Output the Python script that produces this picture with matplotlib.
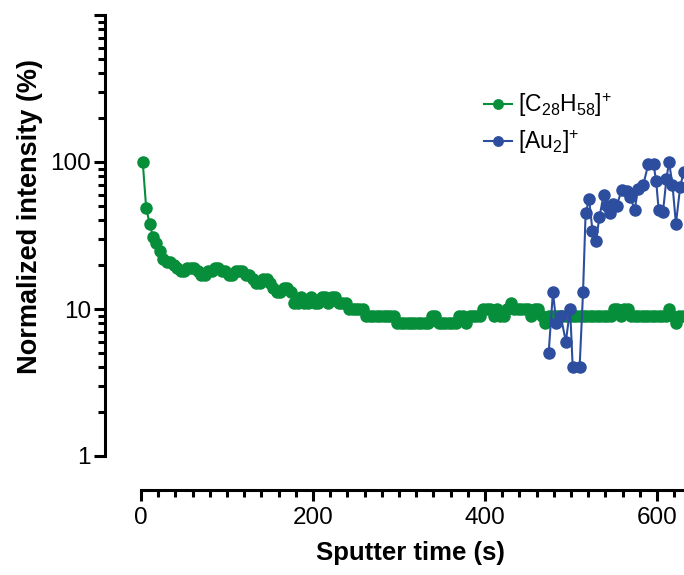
import matplotlib
matplotlib.use('Agg')
import matplotlib.pyplot as plt
from matplotlib.ticker import LogLocator, MultipleLocator, NullFormatter

plt.rcParams['font.family'] = ['Liberation Sans', 'DejaVu Sans']
plt.rcParams['mathtext.default'] = 'regular'

# sputter time (s) and normalized intensity (%)
green_t = [2, 6, 10, 14, 18, 22, 26, 30, 34, 38,
           42, 46, 50, 54, 58, 62, 66, 70, 74, 78,
           82, 86, 90, 94, 98, 102, 106, 110, 114, 118,
           122, 126, 130, 134, 138, 142, 146, 150, 154, 158,
           162, 166, 170, 174, 178, 182, 186, 190, 194, 198,
           202, 206, 210, 214, 218, 222, 226, 230, 234, 238,
           242, 246, 250, 254, 258, 262, 266, 270, 274, 278,
           282, 286, 290, 294, 298, 302, 306, 310, 314, 318,
           322, 326, 330, 334, 338, 342, 346, 350, 354, 358,
           362, 366, 370, 374, 378, 382, 386, 390, 394, 398,
           402, 406, 410, 414, 418, 422, 426, 430, 434, 438,
           442, 446, 450, 454, 458, 462, 466, 470, 474, 478,
           482, 486, 490, 494, 498, 502, 506, 510, 514, 518,
           522, 526, 530, 534, 538, 542, 546, 550, 554, 558,
           562, 566, 570, 574, 578, 582, 586, 590, 594, 598,
           602, 606, 610, 614, 618, 622, 626, 630]
green_v = [100, 49, 38, 31, 28, 25, 22, 21, 21, 20,
           19, 18, 18, 19, 19, 19, 18, 17, 17, 18,
           18, 19, 19, 18, 18, 17, 17, 18, 18, 18,
           17, 17, 16, 15, 15, 16, 16, 15, 14, 13,
           13, 14, 14, 13, 11, 11, 12, 11, 11, 12,
           11, 11, 12, 12, 11, 12, 12, 11, 11, 11,
           10, 10, 10, 10, 10, 9, 9, 9, 9, 9,
           9, 9, 9, 9, 8, 8, 8, 8, 8, 8,
           8, 8, 8, 8, 9, 9, 8, 8, 8, 8,
           8, 8, 9, 9, 8, 9, 9, 9, 9, 10,
           10, 10, 9, 10, 9, 9, 10, 11, 10, 10,
           10, 10, 10, 9, 10, 10, 9, 8, 9, 9,
           9, 9, 9, 9, 9, 9, 9, 9, 9, 9,
           9, 9, 9, 9, 9, 9, 9, 10, 10, 9,
           10, 10, 9, 9, 9, 9, 9, 9, 9, 9,
           9, 9, 9, 10, 9, 8, 9, 9]

blue_t = [474, 479, 483, 488, 494, 499, 502, 510, 514, 517,
          521, 525, 529, 533, 538, 542, 545, 549, 553, 559,
          565, 569, 574, 578, 584, 590, 596, 599, 602, 607,
          611, 614, 618, 622, 627, 631]
blue_v = [5, 13, 8, 9, 6, 10, 4, 4, 13, 45,
          56, 34, 29, 42, 60, 50, 45, 52, 50, 65,
          63, 58, 47, 66, 70, 97, 97, 74, 47, 46,
          77, 100, 70, 38, 68, 85]

labels = [r'[C$_{28}$H$_{58}$]$^{+}$', r'[Au$_{2}$]$^{+}$']
green = '#078E3A'
blue = '#2D4E9F'

fig = plt.figure(figsize=(6.84, 5.75), dpi=100)
ax = fig.add_axes([141 / 684, 119 / 575, 543 / 684, 441 / 575])

ax.plot(green_t, green_v, '-o', color=green, ms=8, lw=1.5, clip_on=False,
        label=labels[0], zorder=3)
ax.plot(blue_t, blue_v, '-o', color=blue, ms=8, lw=1.5, clip_on=False,
        label=labels[1], zorder=4)

ax.set_yscale('log')
ax.set_ylim(1, 1000)
ax.set_xlim(0, 631.4)

ax.set_yticks([1, 10, 100, 1000])
ax.set_yticklabels(['1', '10', '100', ''])
ax.yaxis.set_minor_locator(LogLocator(base=10, subs=range(2, 10)))
ax.yaxis.set_minor_formatter(NullFormatter())
ax.set_xticks([0, 200, 400, 600])
ax.xaxis.set_minor_locator(MultipleLocator(20))

for s in ['top', 'right']:
    ax.spines[s].set_visible(False)
ax.spines['left'].set_position(('outward', 26))
ax.spines['bottom'].set_position(('outward', 24.5))
for s in ['left', 'bottom']:
    ax.spines[s].set_linewidth(2.2)

ax.tick_params(which='major', length=8, width=2.2, labelsize=17.5, pad=2)
ax.tick_params(which='minor', length=5, width=2.2)
ax.tick_params(axis='x', which='major', pad=4)

fig.text(30 / 684, 1 - 217 / 575, 'Normalized intensity (%)', rotation=90,
         ha='center', va='center', fontsize=19.5, fontweight='bold')
fig.text(410 / 684, 1 - 553 / 575, 'Sputter time (s)', ha='center',
         va='center', fontsize=18.5, fontweight='bold')

ax.legend(loc='upper left', bbox_to_anchor=(484 / 684, 1 - 91 / 575),
          bbox_transform=fig.transFigure, frameon=False, fontsize=16.5,
          handlelength=1.2, handletextpad=0.3, borderpad=0, borderaxespad=0,
          labelspacing=0.42, markerscale=0.85)

fig.savefig('out.png', dpi=100)
